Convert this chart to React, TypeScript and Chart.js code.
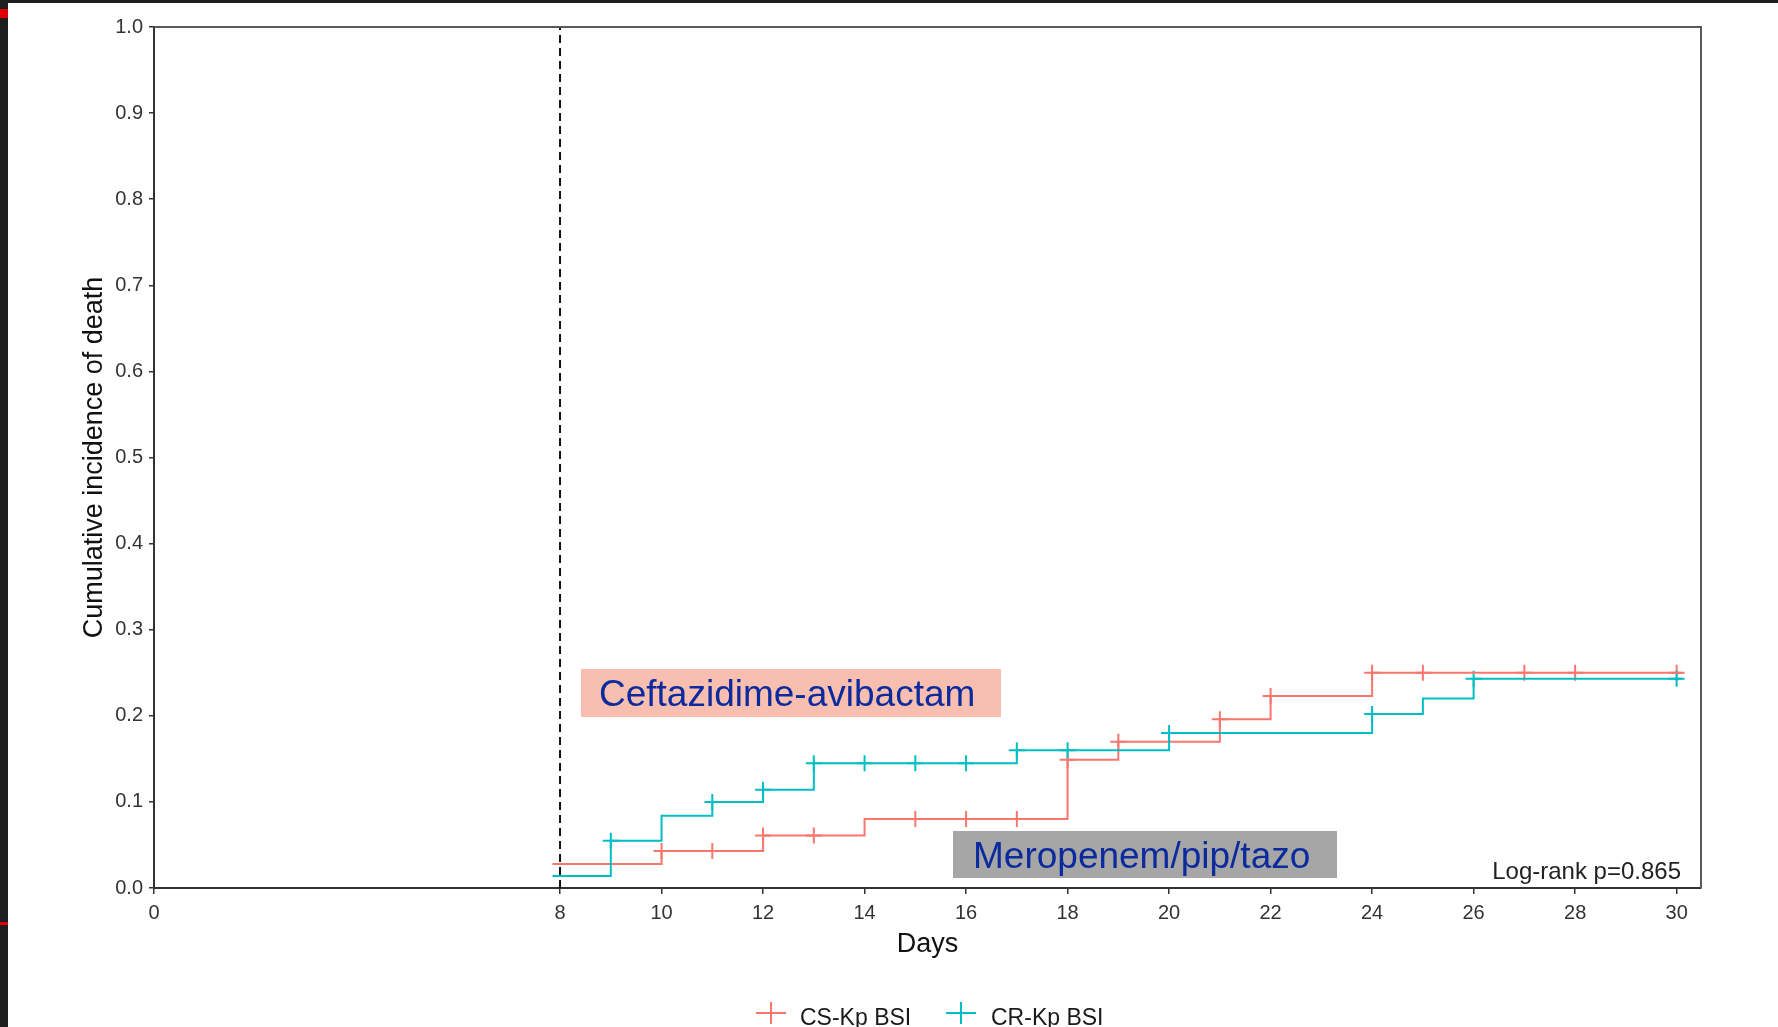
import React, { useEffect, useRef } from "react";
import { Chart, registerables } from "chart.js";

Chart.register(...registerables);

// ---------- data ----------
const xTickValues = [0, 8, 10, 12, 14, 16, 18, 20, 22, 24, 26, 28, 30];
const yTickValues = [0, 0.1, 0.2, 0.3, 0.4, 0.5, 0.6, 0.7, 0.8, 0.9, 1.0];
const landmarkDay = 8;

const csLabel = "CS-Kp BSI";
const csTimes = [7.85, 10, 12, 14, 18, 19, 21, 22, 24, 30.1];
const csValues = [0.028, 0.043, 0.061, 0.08, 0.149, 0.17, 0.196, 0.223, 0.25, 0.25];
const csCensorTimes = [10, 11, 12, 13, 15, 16, 17, 18, 19, 21, 22, 24, 25, 27, 28, 30];

const crLabel = "CR-Kp BSI";
const crTimes = [7.85, 9, 10, 11, 12, 13, 17, 20, 24, 25, 26, 30.1];
const crValues = [0.014, 0.055, 0.084, 0.1, 0.114, 0.145, 0.16, 0.18, 0.202, 0.22, 0.243, 0.243];
const crCensorTimes = [9, 11, 12, 13, 14, 15, 16, 17, 18, 20, 24, 26, 30];

const xTitle = "Days";
const yTitle = "Cumulative incidence of death";
const annotationCaz = "Ceftazidime-avibactam";
const annotationMero = "Meropenem/pip/tazo";
const logRankText = "Log-rank p=0.865";

const RED = "#F8766D";
const TEAL = "#00BFC4";
const FONT = "'Liberation Sans', Arial, sans-serif";

function stepValueAt(times: number[], values: number[], t: number) {
  let v = values[0];
  for (let i = 0; i < times.length; i++) {
    if (times[i] <= t) v = values[i];
  }
  return v;
}

const pts = (times: number[], values: number[]) =>
  times.map((t, i) => ({ x: t, y: values[i] }));

const censorPts = (censor: number[], times: number[], values: number[]) =>
  censor.map((t) => ({ x: t, y: stepValueAt(times, values, t) }));

const decorPlugin = {
  id: "decor",
  beforeDraw(chart: any) {
    const ctx = chart.ctx;
    ctx.save();
    ctx.fillStyle = "#ffffff";
    ctx.fillRect(0, 0, chart.width, chart.height);
    // screenshot frame
    ctx.fillStyle = "#1e1e1e";
    ctx.fillRect(0, 0, chart.width, 3);
    ctx.fillRect(0, 0, 8, chart.height);
    ctx.fillStyle = "#e00000";
    ctx.fillRect(0, 9, 8, 9);
    ctx.fillRect(0, 922, 8, 3);
    ctx.restore();
  },
  afterDraw(chart: any) {
    const ctx = chart.ctx;
    const ca = chart.chartArea;
    ctx.save();
    // top & right panel border
    ctx.strokeStyle = "#5a5a5a";
    ctx.lineWidth = 2;
    ctx.beginPath();
    ctx.moveTo(ca.left, ca.top);
    ctx.lineTo(ca.right, ca.top);
    ctx.lineTo(ca.right, ca.bottom);
    ctx.stroke();

    // annotation boxes
    ctx.fillStyle = "#F8BFB0";
    ctx.fillRect(581, 669, 420, 48);
    ctx.fillStyle = "#A6A6A6";
    ctx.fillRect(953, 831, 384, 47);
    ctx.fillStyle = "#0A2A9E";
    ctx.font = `37px ${FONT}`;
    ctx.textAlign = "left";
    ctx.textBaseline = "alphabetic";
    ctx.fillText(annotationCaz, 599, 706);
    ctx.fillText(annotationMero, 973, 868);

    // log-rank
    ctx.fillStyle = "#222";
    ctx.font = `24px ${FONT}`;
    ctx.textAlign = "right";
    ctx.fillText(logRankText, 1681, 879);

    // legend
    const items = [
      { label: csLabel, color: RED, cx: 771, tx: 800 },
      { label: crLabel, color: TEAL, cx: 961, tx: 991 },
    ];
    ctx.lineWidth = 2;
    ctx.font = `23px ${FONT}`;
    ctx.textAlign = "left";
    for (const it of items) {
      ctx.strokeStyle = it.color;
      ctx.beginPath();
      ctx.moveTo(it.cx - 15, 1013);
      ctx.lineTo(it.cx + 15, 1013);
      ctx.moveTo(it.cx, 1002);
      ctx.lineTo(it.cx, 1024);
      ctx.stroke();
      ctx.fillStyle = "#1a1a1a";
      ctx.fillText(it.label, it.tx, 1025);
    }
    ctx.restore();
  },
};

export default function App() {
  const ref = useRef<HTMLCanvasElement | null>(null);

  useEffect(() => {
    if (!ref.current) return;
    const chart = new Chart(ref.current, {
      type: "line",
      data: {
        datasets: [
          {
            type: "line",
            label: "landmark",
            data: [
              { x: landmarkDay, y: 0 },
              { x: landmarkDay, y: 1 },
            ],
            borderColor: "#111",
            borderWidth: 2,
            borderDash: [8, 5],
            pointRadius: 0,
          },
          {
            type: "line",
            label: crLabel,
            data: pts(crTimes, crValues),
            borderColor: TEAL,
            borderWidth: 2,
            stepped: true,
            pointRadius: 0,
          },
          {
            type: "line",
            label: csLabel,
            data: pts(csTimes, csValues),
            borderColor: RED,
            borderWidth: 2,
            stepped: true,
            pointRadius: 0,
          },
          {
            type: "scatter",
            label: crLabel + " censored",
            data: censorPts(crCensorTimes, crTimes, crValues),
            pointStyle: "cross",
            pointRadius: 8,
            borderColor: TEAL,
            backgroundColor: TEAL,
            pointBorderWidth: 2,
            showLine: false,
          },
          {
            type: "scatter",
            label: csLabel + " censored",
            data: censorPts(csCensorTimes, csTimes, csValues),
            pointStyle: "cross",
            pointRadius: 8,
            borderColor: RED,
            backgroundColor: RED,
            pointBorderWidth: 2,
            showLine: false,
          },
        ] as any,
      },
      options: {
        responsive: false,
        animation: false,
        devicePixelRatio: 1,
        events: [],
        layout: { padding: { top: 27, right: 77, left: 0, bottom: 0 } },
        plugins: {
          legend: { display: false },
          tooltip: { enabled: false },
        },
        scales: {
          x: {
            type: "linear",
            min: 0,
            max: 30.48,
            afterBuildTicks: (s: any) => {
              s.ticks = xTickValues.map((v) => ({ value: v }));
            },
            afterFit: (s: any) => {
              s.height = 139;
            },
            ticks: {
              autoSkip: false,
              maxRotation: 0,
              padding: 7,
              color: "#333",
              font: { family: FONT, size: 20 },
              callback: (v: any) => String(v),
            },
            grid: {
              drawOnChartArea: false,
              drawTicks: true,
              tickLength: 6,
              color: "#333",
              lineWidth: 1.5,
            },
            border: { display: true, color: "#333", width: 2 },
            title: {
              display: true,
              text: xTitle,
              color: "#111",
              font: { family: FONT, size: 27 },
              padding: { top: 0, bottom: 66 },
            },
          },
          y: {
            type: "linear",
            min: 0,
            max: 1,
            afterBuildTicks: (s: any) => {
              s.ticks = yTickValues.map((v) => ({ value: v }));
            },
            afterFit: (s: any) => {
              s.width = 154;
            },
            ticks: {
              padding: 6,
              color: "#333",
              font: { family: FONT, size: 20 },
              callback: (v: any) => Number(v).toFixed(1),
            },
            grid: {
              drawOnChartArea: false,
              drawTicks: true,
              tickLength: 5,
              color: "#333",
              lineWidth: 1.5,
            },
            border: { display: true, color: "#333", width: 2 },
            title: {
              display: true,
              text: yTitle,
              color: "#111",
              font: { family: FONT, size: 27 },
              padding: { top: 78, bottom: 0 },
            },
          },
        },
      } as any,
      plugins: [decorPlugin as any],
    });
    return () => chart.destroy();
  }, []);

  return (
    <div
      style={{
        position: "fixed",
        left: 0,
        top: 0,
        width: 1778,
        height: 1027,
        background: "#fff",
      }}
    >
      <canvas ref={ref} width={1778} height={1027} style={{ display: "block" }} />
    </div>
  );
}
